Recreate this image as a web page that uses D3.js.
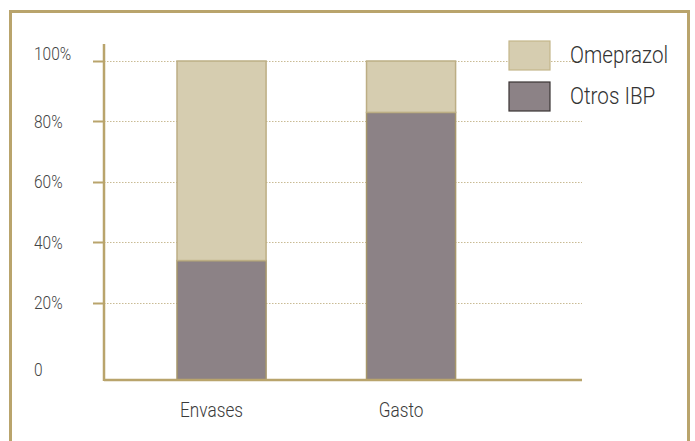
<!DOCTYPE html>
<html><head><meta charset="utf-8">
<script src="https://cdn.jsdelivr.net/npm/d3@7"></script>
<style>
body{margin:0;background:#fff;}
svg{display:block;}
text{font-family:"Roboto","Liberation Sans",sans-serif;font-weight:300;}
</style></head>
<body>
<svg id="chart" width="695" height="441"></svg>
<script>
const categories = ["Envases", "Gasto"];
const otrosIBP = [34, 83];
const omeprazol = [66, 17];
const seriesNames = ["Omeprazol", "Otros IBP"];
const tickValues = [0, 20, 40, 60, 80, 100];
const tickLabels = ["0", "20%", "40%", "60%", "80%", "100%"];

const svg = d3.select("#chart");
const gold = "#b9a46c";
const narrow = 0.86;

// frame
svg.append("rect").attr("x", 10.5).attr("y", 11.5).attr("width", 678).attr("height", 440)
  .attr("fill", "none").attr("stroke", gold).attr("stroke-width", 3);

const left = 104, right = 582;
const y = d3.scaleLinear().domain([-5.5, 100]).range([380, 61]);
const x = d3.scaleBand().domain(categories).range([82.25, 550.35]).paddingInner(0.53).paddingOuter(0.5);

// gridlines
svg.append("g").selectAll("line").data(tickValues.filter(v => v > 0)).join("line")
  .attr("x1", left).attr("x2", right)
  .attr("y1", d => Math.round(y(d)) + 0.5).attr("y2", d => Math.round(y(d)) + 0.5)
  .attr("stroke", "#c9bb94").attr("stroke-width", 1).attr("stroke-dasharray", "1.5,1.5");

// y tick marks
svg.append("g").selectAll("line").data(tickValues.filter(v => v > 0)).join("line")
  .attr("x1", 93).attr("x2", left)
  .attr("y1", d => Math.round(y(d)) + 0.5).attr("y2", d => Math.round(y(d)) + 0.5)
  .attr("stroke", gold).attr("stroke-width", 2);

// y labels
svg.append("g").selectAll("text").data(tickValues).join("text")
  .attr("transform", d => `translate(34,${d === 100 ? y(d) - 7 : (d === 0 ? y(d) + 6 : y(d))}) scale(${narrow},1)`)
  .attr("dy", "0.35em")
  .attr("font-size", 18).attr("fill", "#444")
  .text((d, i) => tickLabels[i]);

// bars
const stackData = categories.map((c, i) => ({c, otros: otrosIBP[i], ome: omeprazol[i]}));
const g = svg.append("g");
g.selectAll("rect.otros").data(stackData).join("rect").attr("class", "otros")
  .attr("x", d => x(d.c)).attr("width", x.bandwidth())
  .attr("y", d => y(d.otros)).attr("height", d => y(y.domain()[0]) - y(d.otros))
  .attr("fill", "#8c8286").attr("stroke", "#a6966a").attr("stroke-width", 1.5);
g.selectAll("rect.ome").data(stackData).join("rect").attr("class", "ome")
  .attr("x", d => x(d.c)).attr("width", x.bandwidth())
  .attr("y", d => y(d.otros + d.ome)).attr("height", d => y(d.otros) - y(d.otros + d.ome))
  .attr("fill", "#d6cdb0").attr("stroke", "#bcae84").attr("stroke-width", 1.5);

// axes lines
svg.append("line").attr("x1", left).attr("x2", left).attr("y1", 44).attr("y2", 381)
  .attr("stroke", gold).attr("stroke-width", 2.5);
svg.append("line").attr("x1", left).attr("x2", right).attr("y1", 380).attr("y2", 380)
  .attr("stroke", gold).attr("stroke-width", 2.5);

// x labels
svg.append("g").selectAll("text").data(categories).join("text")
  .attr("transform", d => `translate(${x(d) + x.bandwidth() / 2 - 10},417) scale(${narrow},1)`)
  .attr("text-anchor", "middle").attr("font-size", 20).attr("fill", "#3a3a3a")
  .text(d => d);

// legend
const legendColors = [{f: "#d6cdb0", s: "#c4b68a"}, {f: "#8c8286", s: "#3a3434"}];
const lg = svg.append("g");
seriesNames.forEach((n, i) => {
  lg.append("rect").attr("x", 509).attr("y", 41 + i * 41).attr("width", 41).attr("height", 29)
    .attr("fill", legendColors[i].f).attr("stroke", legendColors[i].s).attr("stroke-width", 1.2);
  lg.append("text").attr("transform", `translate(570,${55 + i * 41}) scale(${narrow},1)`).attr("dy", "0.35em")
    .attr("font-size", 24).attr("fill", "#333").text(n);
});
</script>
</body></html>
